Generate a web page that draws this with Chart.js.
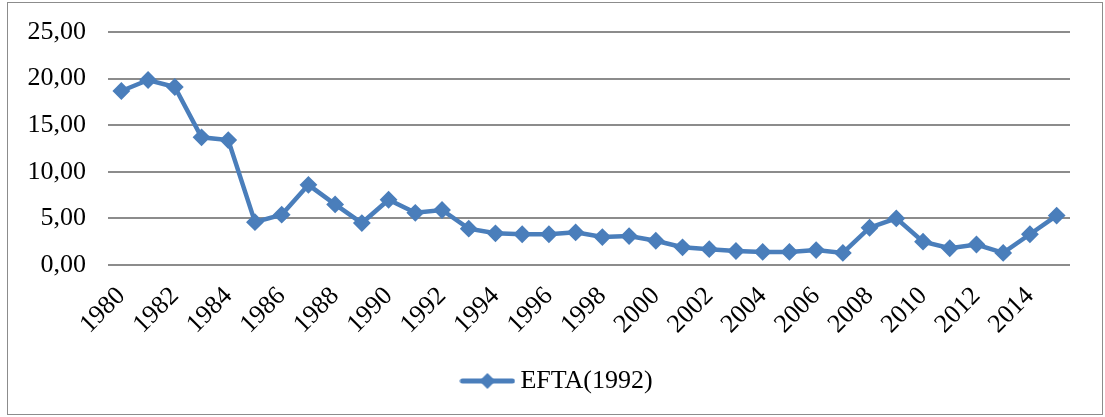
<!DOCTYPE html>
<html>
<head>
<meta charset="utf-8">
<script src="https://cdn.jsdelivr.net/npm/chart.js@4"></script>
<style>
  html, body { margin: 0; padding: 0; background: #fff; }
  #wrap { width: 1105px; height: 417px; }
</style>
</head>
<body>
<div id="wrap"><canvas id="myChart" width="1105" height="417"></canvas></div>
<script>
const years = [
    '1980', '1981', '1982', '1983', '1984', '1985', '1986', '1987', '1988', '1989',
    '1990', '1991', '1992', '1993', '1994', '1995', '1996', '1997', '1998', '1999',
    '2000', '2001', '2002', '2003', '2004', '2005', '2006', '2007', '2008', '2009',
    '2010', '2011', '2012', '2013', '2014', '2015'
];
const efta1992 = [
    18.67, 19.85, 19.1, 13.7, 13.4, 4.6, 5.4, 8.6, 6.5, 4.5,
    7.0, 5.6, 5.9, 3.9, 3.4, 3.3, 3.3, 3.5, 3.0, 3.1,
    2.6, 1.9, 1.7, 1.5, 1.4, 1.4, 1.6, 1.3, 4.0, 5.0,
    2.5, 1.8, 2.2, 1.3, 3.3, 5.3
];
const yTickLabels = ['0,00', '5,00', '10,00', '15,00', '20,00', '25,00'];
const seriesName = 'EFTA(1992)';

const blue = '#4a7ebb';
const font = { family: '"Liberation Serif", "Times New Roman", serif', size: 26 };

// legend icon: line with a diamond in the middle
const icon = document.createElement('canvas');
icon.width = 56;
icon.height = 20;
const ic = icon.getContext('2d');
ic.strokeStyle = blue;
ic.fillStyle = blue;
ic.lineWidth = 5;
ic.lineCap = 'round';
ic.beginPath();
ic.moveTo(3, 10);
ic.lineTo(53, 10);
ic.stroke();
ic.beginPath();
ic.moveTo(28, 2);
ic.lineTo(36, 10);
ic.lineTo(28, 18);
ic.lineTo(20, 10);
ic.closePath();
ic.fill();

const frame = {
    id: 'frame',
    afterLayout(chart) {
        // legend sits a bit right of the canvas centre
        chart.legend.left += 42;
    },
    afterDraw(chart) {
        const c = chart.ctx;
        c.save();
        c.strokeStyle = '#8c8c8c';
        c.lineWidth = 1;
        c.strokeRect(7.5, 2.5, 1095, 412);
        c.restore();
    }
};

const ctx = document.getElementById('myChart').getContext('2d');
new Chart(ctx, {
    type: 'line',
    data: {
        labels: years,
        datasets: [{
            label: seriesName,
            data: efta1992,
            borderColor: blue,
            backgroundColor: blue,
            borderWidth: 4.5,
            pointStyle: 'rectRot',
            pointRadius: 7.5,
            pointBorderWidth: 2,
            pointBackgroundColor: blue,
            pointBorderColor: blue,
            tension: 0
        }]
    },
    options: {
        responsive: false,
        animation: false,
        layout: { padding: { left: 8, right: 35, top: 32, bottom: 13 } },
        plugins: {
            legend: {
                position: 'bottom',
                labels: {
                    usePointStyle: true,
                    pointStyle: icon,
                    pointStyleWidth: 40,
                    padding: 10,
                    color: '#000',
                    font: font
                }
            },
            tooltip: { enabled: false }
        },
        scales: {
            x: {
                offset: true,
                grid: { display: false, drawTicks: false },
                border: { display: false },
                ticks: {
                    autoSkip: false,
                    maxRotation: 45,
                    minRotation: 45,
                    padding: 16,
                    color: '#000',
                    font: font,
                    callback: (v, i) => (i % 2 === 0 ? years[i] : '')
                },
                afterFit: s => {
                    s.height = 93;
                    s.paddingTop = 0;
                    s.paddingLeft = 0;
                    s.paddingRight = 0;
                }
            },
            y: {
                min: 0,
                max: 25,
                grid: { color: '#8c8c8c', lineWidth: 2, drawTicks: false },
                border: { display: false },
                ticks: {
                    stepSize: 5,
                    padding: 22,
                    color: '#000',
                    font: font,
                    callback: (v, i) => yTickLabels[i]
                },
                afterFit: s => {
                    s.width = 100;
                    s.paddingTop = 0;
                    s.paddingBottom = 0;
                }
            }
        }
    },
    plugins: [frame]
});
</script>
</body>
</html>
